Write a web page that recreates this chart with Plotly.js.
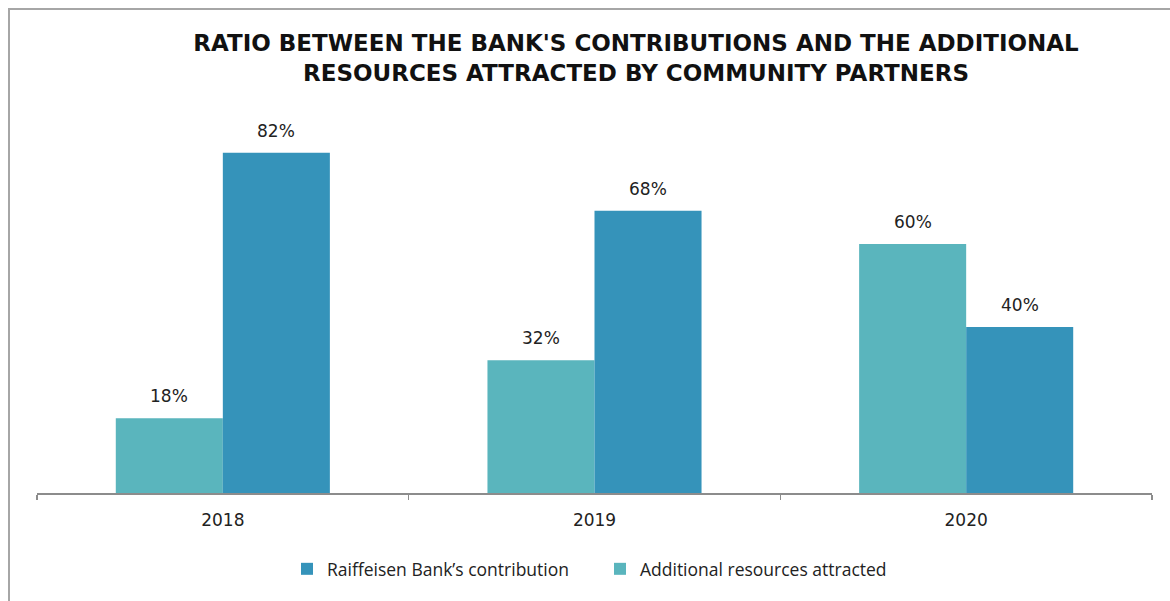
<!DOCTYPE html>
<html>
<head>
<meta charset="utf-8">
<script src="https://cdn.plot.ly/plotly-3.0.1.min.js"></script>
<style>
  html, body { margin: 0; padding: 0; background: #fff; }
  #wrap { position: relative; width: 1170px; height: 601px; }
  #chart { width: 1170px; height: 601px; }
  #frame { position: absolute; left: 8px; top: 8px; width: 1162px; height: 593px;
           border-top: 2px solid #a6a6a6; border-left: 2px solid #a6a6a6;
           pointer-events: none; box-sizing: border-box; }
</style>
</head>
<body>
<div id="wrap">
  <div id="chart"></div>
  <div id="frame"></div>
</div>
<script>
const years = ["2018", "2019", "2020"];
const additionalResources = [18, 32, 60];
const bankContribution = [82, 68, 40];
const seriesNames = ["Additional resources attracted", "Raiffeisen Bank\u2019s contribution"];
const colors = ["#5ab5bd", "#3593ba"];

const traces = [
  { type: "bar", name: seriesNames[0], x: years, y: additionalResources,
    marker: { color: colors[0] }, hoverinfo: "skip" },
  { type: "bar", name: seriesNames[1], x: years, y: bankContribution,
    marker: { color: colors[1] }, hoverinfo: "skip" }
];

const catWidthPx = 1115 / 3;
const bargap = 0.424;
const halfBar = catWidthPx * (1 - bargap) / 4;

const annotations = [];
[additionalResources, bankContribution].forEach((vals, si) => {
  vals.forEach((v, i) => {
    annotations.push({
      x: i, y: v, xref: "x", yref: "y",
      text: v + "%", showarrow: false,
      xshift: si === 0 ? -halfBar : halfBar,
      yanchor: "bottom", yshift: 10,
      font: { family: "DejaVu Sans, Verdana, sans-serif", size: 17, color: "#222" }
    });
  });
});

const layout = {
  width: 1170, height: 601,
  margin: { l: 37, r: 18, t: 78, b: 108 },
  paper_bgcolor: "#ffffff", plot_bgcolor: "#ffffff",
  title: {
    text: "RATIO BETWEEN THE BANK'S CONTRIBUTIONS AND THE ADDITIONAL<br>RESOURCES ATTRACTED BY COMMUNITY PARTNERS",
    font: { family: "DejaVu Sans, sans-serif", size: 23, color: "#111", weight: "bold" },
    xref: "container", x: 0.5436, xanchor: "center",
    yref: "container", y: 1 - 51 / 601, yanchor: "middle"
  },
  barmode: "group",
  bargap: bargap, bargroupgap: 0,
  xaxis: {
    type: "category", range: [-0.5, years.length - 0.5],
    showline: true, linecolor: "#8c8c8c", linewidth: 1.5,
    ticks: "outside", tickson: "boundaries", ticklen: 5, tickcolor: "#8c8c8c", tickwidth: 1.5,
    tickfont: { family: "DejaVu Sans, Verdana, sans-serif", size: 17, color: "#222" },
    tickangle: 0, ticklabelstandoff: 11,
    showgrid: false, zeroline: false, fixedrange: true
  },
  yaxis: {
    range: [0, 100], showticklabels: false, showgrid: false, zeroline: false,
    showline: false, ticks: "", fixedrange: true
  },
  showlegend: true,
  legend: {
    orientation: "h", traceorder: "reversed",
    x: 0.2242, xanchor: "left", y: -0.183, yanchor: "middle",
    font: { family: "Open Sans, sans-serif", size: 17.5, color: "#222" },
    itemwidth: 30, entrywidth: 268
  },
  annotations: annotations
};

Plotly.newPlot("chart", traces, layout, { displayModeBar: false, staticPlot: true });
</script>
</body>
</html>
